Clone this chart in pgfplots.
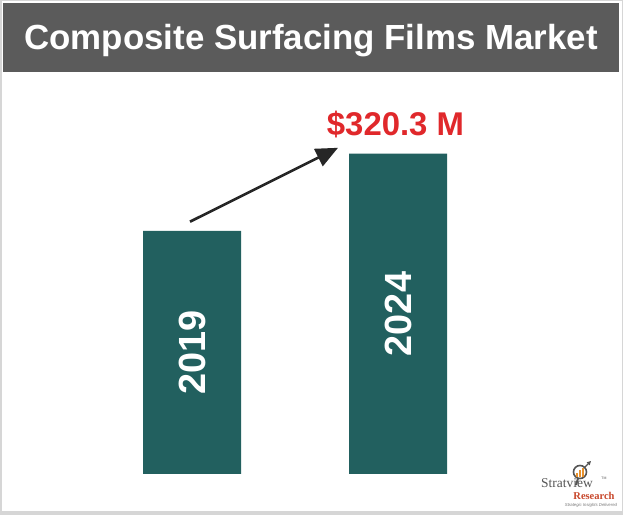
\documentclass[border=0pt]{standalone}
\usepackage{pgfplots}
\pgfplotsset{compat=1.18}
\usepackage{fontspec}
\setmainfont{Liberation Sans}
\newfontfamily\seriffont{Liberation Serif}
\usetikzlibrary{arrows.meta}
\definecolor{titlebg}{HTML}{5B5B5B}
\definecolor{barcol}{HTML}{22605F}
\definecolor{valred}{HTML}{E0282B}
\definecolor{arrowcol}{HTML}{262626}
\definecolor{frame}{HTML}{D6D6D6}
\definecolor{logored}{HTML}{C8462A}
\definecolor{logogray}{HTML}{555555}
\definecolor{logoorange}{HTML}{E8912C}
\begin{document}
\begin{tikzpicture}
\begin{axis}[
  scale only axis, width=623bp, height=515bp,
  xmin=0, xmax=623, ymin=-41, ymax=474,
  hide axis, clip=false,
]
% background and frame
\fill[white] (axis cs:0,-41) rectangle (axis cs:623,474);
\draw[frame, line width=1.5bp] (axis cs:0.75,473.25) rectangle (axis cs:622.25,-40.25);
\fill[frame] (axis cs:0,-41) rectangle (axis cs:623,-37.5);
% title bar
\fill[titlebg] (axis cs:3,471) rectangle (axis cs:619,402);
\node[anchor=base, text=white, font=\fontsize{35}{40}\selectfont\bfseries]
  at (axis cs:311,424) {Composite Surfacing Films Market};
% bars
\addplot[ybar, bar width=98bp, fill=barcol, draw=none] coordinates {(192,243) (398,320.3)};
\node[rotate=90, text=white, font=\fontsize{38}{40}\selectfont\bfseries, inner sep=0pt]
  at (axis cs:192,121.5) {2019};
\node[rotate=90, text=white, font=\fontsize{38}{40}\selectfont\bfseries, inner sep=0pt]
  at (axis cs:398,160) {2024};
% arrow
\draw[arrowcol, line width=2.6bp, -{Triangle[length=22bp,width=19bp]}]
  (axis cs:190,252.3) -- (axis cs:338,326.2);
% value label
\node[anchor=base, text=valred, font=\fontsize{33}{36}\selectfont\bfseries]
  at (axis cs:395.5,338) {\$320.3 M};
% logo
\draw[logogray, line width=1.6bp] (axis cs:580,2) circle[radius=6.5bp];
\fill[logoorange] (axis cs:576,-3) rectangle (axis cs:578,1);
\fill[logoorange] (axis cs:579,-3) rectangle (axis cs:581,4);
\fill[logoorange] (axis cs:582,-3) rectangle (axis cs:584,6);
\draw[logogray, line width=1.2bp, -{Triangle[length=4bp,width=4bp]}] (axis cs:584,6) -- (axis cs:591,13);
\draw[logogray, line width=2bp] (axis cs:578,-4.5) -- (axis cs:576,-11);
\node[anchor=base, text=logogray, font=\seriffont\fontsize{13.5}{15}\selectfont, inner sep=0pt]
  at (axis cs:567,-13) {Stratview};
\node[anchor=base, text=logogray, font=\fontsize{3.5}{4}\selectfont, inner sep=0pt]
  at (axis cs:604,-6) {TM};
\node[anchor=base, text=logored, font=\seriffont\fontsize{10.5}{12}\selectfont\bfseries, inner sep=0pt]
  at (axis cs:594,-25) {Research};
\node[anchor=base, text=logogray!80, font=\fontsize{4.3}{5}\selectfont\itshape, inner sep=0pt]
  at (axis cs:591,-32) {Strategic Insights Delivered};
\end{axis}
\end{tikzpicture}
\end{document}
